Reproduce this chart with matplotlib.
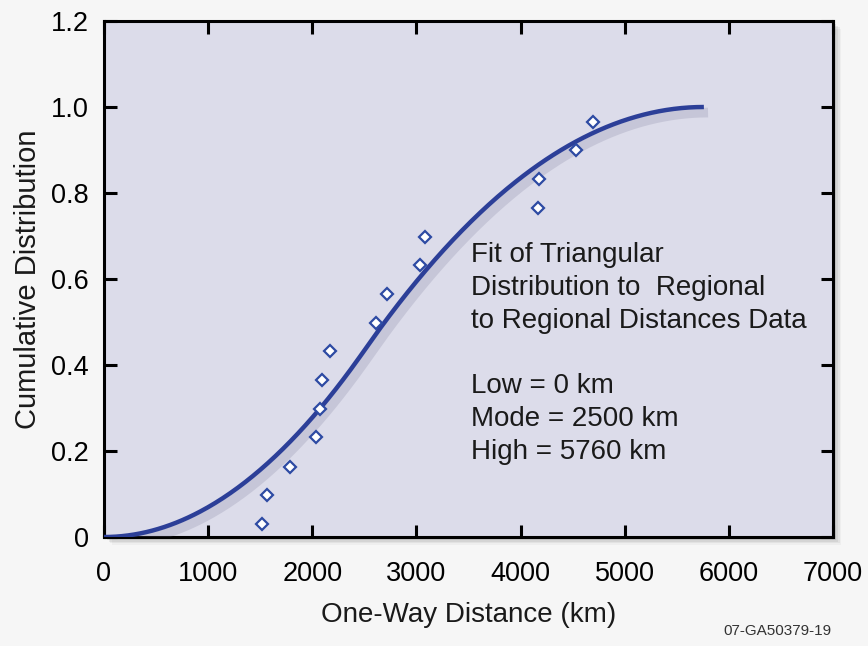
import numpy as np
import matplotlib
matplotlib.use("Agg")
import matplotlib.pyplot as plt
import matplotlib.patheffects as pe
from matplotlib.patches import Rectangle

plt.rcParams['font.family'] = ['Liberation Sans', 'DejaVu Sans']

# Observed one-way distances (km) and their empirical cumulative fractions
obs_distance = [1516, 1564, 1785, 2035, 2073, 2092, 2169, 2610, 2716,
                3033, 3081, 4165, 4175, 4530, 4693]
obs_cdf = [0.030, 0.098, 0.163, 0.233, 0.298, 0.365, 0.433, 0.498, 0.565,
           0.633, 0.698, 0.765, 0.833, 0.900, 0.965]

# Triangular distribution parameters (km)
low, mode, high = 0.0, 2500.0, 5760.0

x_ticks = [0, 1000, 2000, 3000, 4000, 5000, 6000, 7000]
y_ticks = [0, 0.2, 0.4, 0.6, 0.8, 1.0, 1.2]
y_tick_labels = ["0", "0.2", "0.4", "0.6", "0.8", "1.0", "1.2"]


def triangular_cdf(x, a, c, b):
    x = np.asarray(x, dtype=float)
    out = np.where(
        x <= c,
        (x - a) ** 2 / ((b - a) * (c - a)),
        1.0 - (b - x) ** 2 / ((b - a) * (b - c)),
    )
    return np.clip(out, 0, 1)


fig = plt.figure(figsize=(8.68, 6.46), dpi=100, facecolor="#f6f6f6")
ax = fig.add_axes([0.1198, 0.1687, 0.8399, 0.7988])
ax.set_facecolor("#dcdcea")
ax.set_xlim(0, 7000)
ax.set_ylim(0, 1.2)

# soft drop shadow behind the plotting frame
pos = ax.get_position()
for i, a in enumerate([0.10, 0.08, 0.06, 0.04]):
    off = 0.004 + i * 0.003
    fig.patches.append(Rectangle((pos.x0 + off * 0.75, pos.y0 - off), pos.width, pos.height,
                                 transform=fig.transFigure, facecolor="#303030",
                                 edgecolor="none", alpha=a, zorder=-5))

xs = np.linspace(low, high, 400)
ax.plot(xs, triangular_cdf(xs, low, mode, high), color="#2c3f98", lw=3.2,
        solid_capstyle="butt", zorder=3,
        path_effects=[pe.SimpleLineShadow(offset=(3, -4), shadow_color="#707090",
                                          alpha=0.2, linewidth=7),
                      pe.Normal()])

ax.plot(obs_distance, obs_cdf, linestyle="none", marker="D", markersize=6,
        markerfacecolor="white", markeredgecolor="#2d4aa3", markeredgewidth=1.6,
        zorder=4)

ax.set_xticks(x_ticks)
ax.set_yticks(y_ticks)
ax.set_yticklabels(y_tick_labels)
ax.tick_params(direction="in", length=9, width=2.2, top=True, right=True,
               labelsize=19.5, colors="black")
ax.tick_params(axis="x", pad=17)
ax.tick_params(axis="y", pad=11)
for sp in ax.spines.values():
    sp.set_linewidth(2.2)
    sp.set_color("black")

ax.set_xlabel("One-Way Distance (km)", fontsize=20, labelpad=11, color="#1a1a1a")
ax.set_ylabel("Cumulative Distribution", fontsize=21, labelpad=6, color="#1a1a1a")

ax.text(3520, 0.686,
        "Fit of Triangular\nDistribution to  Regional\nto Regional Distances Data\n\n"
        "Low = 0 km\nMode = 2500 km\nHigh = 5760 km",
        fontsize=20, va="top", ha="left", linespacing=1.34, color="#1a1a1a")

fig.text(0.958, 0.012, "07-GA50379-19", fontsize=11, ha="right", va="bottom",
         color="#333333")

fig.savefig("out.png", dpi=100, facecolor=fig.get_facecolor())
